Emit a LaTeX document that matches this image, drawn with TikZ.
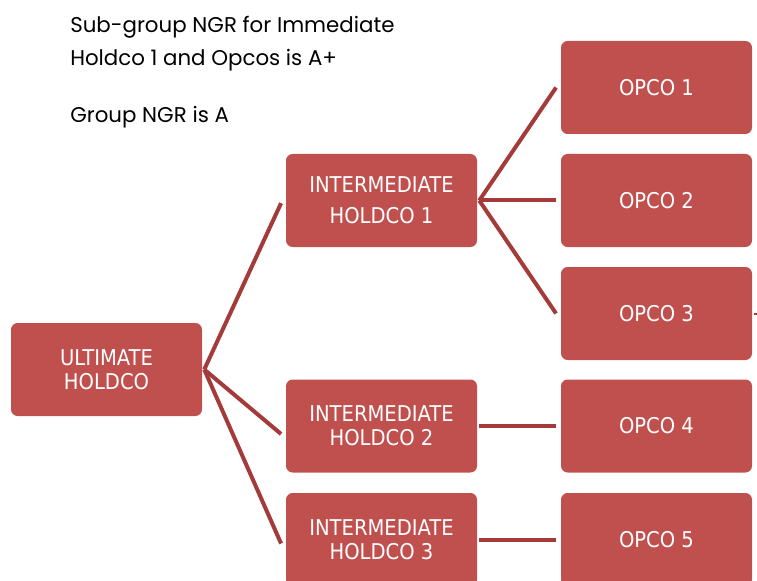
\documentclass[tikz,border=0pt]{standalone}
\usepackage{fontspec}
\setmainfont{DejaVu Sans Condensed}
\newfontfamily\topfont{Poppins}
\definecolor{boxred}{HTML}{C0504D}
\definecolor{linkred}{HTML}{A33B3A}
\begin{document}
\begin{tikzpicture}[x=0.75pt,y=-0.75pt,
  box/.style={draw=none,fill=boxred,rounded corners=5pt,minimum width=143.25pt,minimum height=69.75pt,
    text=white,font=\fontsize{16.3pt}{18pt}\selectfont,align=center,inner sep=0pt},
  link/.style={draw=linkred,line width=3pt},
  note/.style={anchor=north west,align=left,font=\topfont\fontsize{16pt}{24.5pt}\selectfont,inner sep=0pt}]
\useasboundingbox (0,0) rectangle (757,581);
\node[note] (n1) at (70,16) {Sub-group NGR for Immediate\\Holdco 1 and Opcos is A+};
\node[note] (n2) at (70,106) {Group NGR is A};
\node[box] (u) at (106.5,369.5) {ULTIMATE\\HOLDCO};
\node[box,font=\fontsize{16.3pt}{23pt}\selectfont] (i1) at (381.5,200.5) {INTERMEDIATE\\HOLDCO 1};
\node[box] (i2) at (381.5,426) {INTERMEDIATE\\HOLDCO 2};
\node[box] (i3) at (381.5,539.5) {INTERMEDIATE\\HOLDCO 3};
\node[box] (o1) at (656.5,87.5) {OPCO 1};
\node[box] (o2) at (656.5,200.5) {OPCO 2};
\node[box] (o3) at (656.5,313.5) {OPCO 3};
\node[box] (o4) at (656.5,426) {OPCO 4};
\node[box] (o5) at (656.5,539.5) {OPCO 5};
\coordinate (uo) at ([xshift=1.5pt]u.east);
\coordinate (i1o) at ([xshift=1.5pt]i1.east);
\draw[link] (uo) -- ([xshift=-3.5pt,yshift=-2pt]i1.west);
\draw[link] (uo) -- ([xshift=-3.5pt,yshift=-6pt]i2.west);
\draw[link] (uo) -- ([xshift=-3.5pt,yshift=-3pt]i3.west);
\draw[link] (i1o) -- ([xshift=-3.5pt]o1.west);
\draw[link] (i1o) -- ([xshift=-3.5pt]o2.west);
\draw[link] (i1o) -- ([xshift=-3.5pt]o3.west);
\draw[link] ([xshift=1.5pt]i2.east) -- ([xshift=-3.5pt]o4.west);
\draw[link] ([xshift=1.5pt]i3.east) -- ([xshift=-3.5pt]o5.west);
\coordinate (s1) at (754,313.5);
\coordinate (s2) at (757,313.5);
\draw[linkred,line width=1.5pt] (s1) -- (s2);
\end{tikzpicture}
\end{document}
